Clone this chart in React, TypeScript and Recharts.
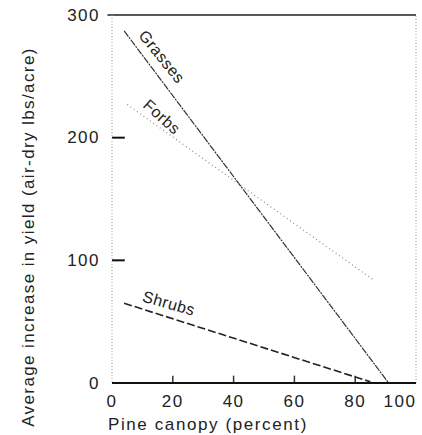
import React from 'react';
import { LineChart, Line, XAxis, YAxis, ReferenceLine, ReferenceDot, Label } from 'recharts';

const xTicks = [0, 20, 40, 60, 80, 100];
const yTicks = [0, 100, 200, 300];

const grasses = [
  { canopy: 4, yield: 287 },
  { canopy: 91, yield: 0 },
];
const forbs = [
  { canopy: 5, yield: 227 },
  { canopy: 86, yield: 84 },
];
const shrubs = [
  { canopy: 4, yield: 65 },
  { canopy: 85, yield: 1 },
];

const seriesLabels = [
  { name: 'Grasses', canopy: 16.4, yield: 266, angle: 51 },
  { name: 'Forbs', canopy: 16.4, yield: 217, angle: 42 },
  { name: 'Shrubs', canopy: 18.7, yield: 65, angle: 16 },
];

const font = '"Liberation Sans", Arial, Helvetica, sans-serif';
const ink = '#222';

function XTick({ x, y, payload }: any) {
  // the last label sits against the page edge, so pull it in a little
  const dx = payload.value === 100 ? -10 : 0;
  return (
    <text x={x} y={y} dx={dx} dy="0.71em" textAnchor="middle" fontFamily={font} fontSize={17} letterSpacing={1.5} fill={ink}>
      {payload.value}
    </text>
  );
}

function YTick({ x, y, payload }: any) {
  return (
    <text x={x} y={y} textAnchor="end" dominantBaseline="central" fontFamily={font} fontSize={17} letterSpacing={1.5} fill={ink}>
      {payload.value}
    </text>
  );
}

function YTitle({ viewBox }: any) {
  const cx = viewBox.x + 28;
  const cy = viewBox.y + viewBox.height / 2 + 38;
  return (
    <text
      transform={`translate(${cx},${cy}) rotate(-90)`}
      textAnchor="middle"
      dominantBaseline="central"
      fontFamily={font}
      fontSize={17}
      letterSpacing={1.4}
      fill={ink}
    >
      Average increase in yield (air-dry lbs/acre)
    </text>
  );
}

function XTitle({ viewBox }: any) {
  return (
    <text x={viewBox.x - 4} y={viewBox.y + 47} textAnchor="start" fontFamily={font} fontSize={17} letterSpacing={1.6} fill={ink}>
      Pine canopy (percent)
    </text>
  );
}

function seriesLabel(text: string, angle: number) {
  return ({ viewBox }: any) => (
    <text
      transform={`translate(${viewBox.x},${viewBox.y}) rotate(${angle})`}
      textAnchor="middle"
      dominantBaseline="central"
      fontFamily={font}
      fontSize={16}
      letterSpacing={0.5}
      fill={ink}
    >
      {text}
    </text>
  );
}

export default function App() {
  return (
    <div style={{ position: 'absolute', left: 0, top: 0, width: 422, height: 435, background: '#fff' }}>
      <LineChart width={422} height={435} margin={{ top: 15, right: 6, bottom: 0, left: 0 }}>
        <XAxis
          type="number"
          dataKey="canopy"
          domain={[0, 100]}
          ticks={xTicks}
          height={52}
          tickSize={0}
          tickMargin={12}
          tick={<XTick />}
          axisLine={{ stroke: '#111', strokeWidth: 2 }}
        >
          <Label content={<XTitle />} />
        </XAxis>
        <YAxis
          type="number"
          dataKey="yield"
          domain={[0, 300]}
          ticks={yTicks}
          width={112}
          tickSize={0}
          tickMargin={12}
          tick={<YTick />}
          axisLine={{ stroke: '#999', strokeDasharray: '1 2' }}
        >
          <Label content={<YTitle />} />
        </YAxis>

        <ReferenceLine
          segment={[{ x: -1.5, y: 300 }, { x: 100, y: 300 }]}
          ifOverflow="visible"
          stroke="#222"
          strokeWidth={1.5}
        />
        <ReferenceLine x={100} stroke="#999" strokeDasharray="1 2" />

        {[100, 200].map((v) => (
          <ReferenceLine key={`yt${v}`} segment={[{ x: 0, y: v }, { x: 4.2, y: v }]} stroke="#111" strokeWidth={2} />
        ))}
        {[20, 40, 60, 80].map((v) => (
          <ReferenceLine key={`xt${v}`} segment={[{ x: v, y: 0 }, { x: v, y: 6 }]} stroke="#333" strokeWidth={1.5} />
        ))}

        <Line data={grasses} dataKey="yield" type="linear" stroke="#333" strokeWidth={1.2} strokeDasharray="7 1 2 1" dot={false} isAnimationActive={false} />
        <Line data={forbs} dataKey="yield" type="linear" stroke="#8a8a8a" strokeWidth={1.2} strokeDasharray="1 3" dot={false} isAnimationActive={false} />
        <Line data={shrubs} dataKey="yield" type="linear" stroke="#222" strokeWidth={1.6} strokeDasharray="8 3" dot={false} isAnimationActive={false} />

        {seriesLabels.map((s) => (
          <ReferenceDot
            key={s.name}
            x={s.canopy}
            y={s.yield}
            r={0}
            fill="none"
            stroke="none"
            label={seriesLabel(s.name, s.angle)}
          />
        ))}
      </LineChart>
    </div>
  );
}
